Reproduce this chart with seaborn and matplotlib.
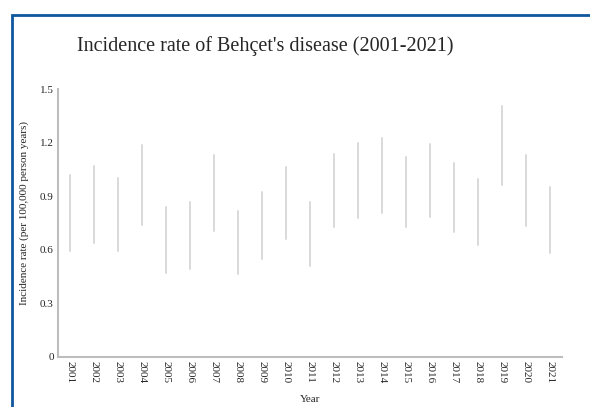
import pandas as pd
import seaborn as sns
import matplotlib.pyplot as plt
from matplotlib.patches import Rectangle

# Confidence limits of the incidence rate
years = [str(y) for y in range(2001, 2022)]
lower = [0.593, 0.638, 0.593, 0.738, 0.470, 0.495, 0.706, 0.466, 0.551, 0.663, 0.511,
         0.728, 0.778, 0.805, 0.725, 0.784, 0.700, 0.629, 0.962, 0.734, 0.581]
upper = [1.018, 1.068, 1.003, 1.186, 0.838, 0.867, 1.132, 0.819, 0.923, 1.061, 0.868,
         1.137, 1.197, 1.225, 1.119, 1.192, 1.085, 0.995, 1.405, 1.130, 0.951]
y_ticks = [0, 0.3, 0.6, 0.9, 1.2, 1.5]
y_tick_labels = ['0', '0.3', '0.6', '0.9', '1.2', '1.5']


def build_frame():
    # two rows per year (low and high), the error bar spans min..max
    lo = pd.DataFrame({'Year': years, 'rate': lower})
    hi = pd.DataFrame({'Year': years, 'rate': upper})
    return pd.concat([lo, hi], ignore_index=True)


def main():
    df = build_frame()

    sns.set_style('white')
    plt.rcParams['font.family'] = ['Liberation Serif', 'DejaVu Serif']

    fig = plt.figure(figsize=(5.9, 4.07), dpi=100)
    ax = fig.add_axes([0.0983, 0.1229, 0.8542, 0.6584])

    sns.pointplot(data=df, x='Year', y='rate', order=years, errorbar=('pi', 100),
                  linestyle='none', marker='', color='#d9d9d9',
                  err_kws={'linewidth': 1.4, 'color': '#d9d9d9'}, ax=ax)

    ax.set_xlim(-0.5, len(years) - 0.5)
    ax.set_ylim(0, 1.5)
    ax.set_yticks(y_ticks)
    ax.set_yticklabels(y_tick_labels, fontsize=8)
    ax.set_xticks(range(len(years)))
    ax.set_xticklabels(years, rotation=-90, fontsize=8)
    ax.tick_params(axis='both', length=0, pad=3)

    for s in ['top', 'right']:
        ax.spines[s].set_visible(False)
    for s in ['left', 'bottom']:
        ax.spines[s].set_color('#bdbdbd')
        ax.spines[s].set_linewidth(1.5)

    ax.set_xlabel('Year', fontsize=8, labelpad=8)
    ax.set_ylabel('Incidence rate (per 100,000 person years)', fontsize=8)
    ax.yaxis.set_label_coords(-0.058, 0.539)

    fig.text(0.449, 1 - 46 / 407, "Incidence rate of Behçet's disease (2001-2021)",
             ha='center', va='center', fontsize=14.5)

    # blue frame around the chart
    fig.patches.append(Rectangle((12 / 590, -0.1), 1.2, 1 - 15 / 407 + 0.1,
                                 transform=fig.transFigure, fill=False,
                                 edgecolor='#0f579e', linewidth=2))

    fig.savefig('out.png', dpi=100)


if __name__ == '__main__':
    main()
